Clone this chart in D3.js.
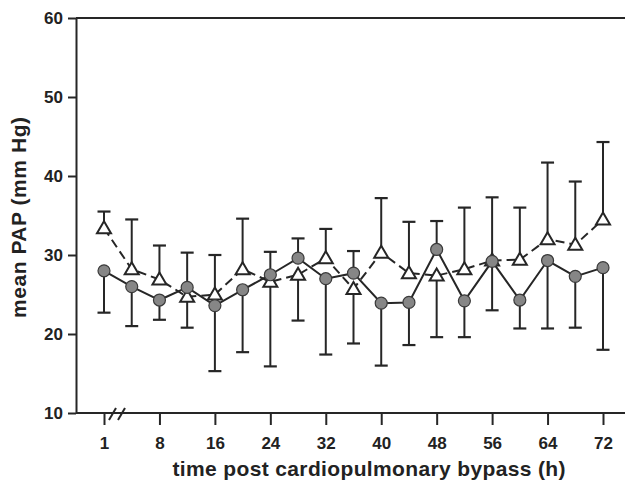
<!DOCTYPE html>
<html>
<head>
<meta charset="utf-8">
<script src="https://cdn.jsdelivr.net/npm/d3@7"></script>
<style>
  body { margin: 0; background: #fff; }
  text { font-family: "Liberation Sans", Arial, sans-serif; font-weight: bold; fill: #222; }
</style>
</head>
<body>
<div id="chart"></div>
<script>
// hours after bypass (1 is drawn before a break in the axis)
const times = [1, 4, 8, 12, 16, 20, 24, 28, 32, 36, 40, 44, 48, 52, 56, 60, 64, 68, 72];
const tickTimes = [1, 8, 16, 24, 32, 40, 48, 56, 64, 72];
const yTicks = [10, 20, 30, 40, 50, 60];

// filled circles, solid line
const circleMeans = [28.0, 26.0, 24.3, 25.9, 23.6, 25.6, 27.5, 29.6, 27.0, 27.7,
    23.9, 24.0, 30.7, 24.2, 29.2, 24.3, 29.3, 27.3, 28.4];
// open triangles, dashed line
const triangleMeans = [33.4, 28.2, 26.9, 24.7, 25.0, 28.2, 26.6, 27.5, 29.6, 25.7,
    30.3, 27.7, 27.4, 28.2, 29.3, 29.4, 32.0, 31.3, 34.5];
// error bar ends (upper one drawn from the higher mean, lower one from the lower mean)
const errUpper = [35.5, 34.5, 31.2, 30.3, 30.0, 34.6, 30.4, 32.1, 33.3, 30.5,
    37.2, 34.2, 34.3, 36.0, 37.3, 36.0, 41.7, 39.3, 44.3];
const errLower = [22.7, 21.0, 21.8, 20.8, 15.3, 17.7, 15.9, 21.7, 17.4, 18.8,
    16.0, 18.6, 19.6, 19.6, 23.0, 20.7, 20.7, 20.8, 18.0];

const width = 625, height = 484;
const margin = { top: 18, right: 22, bottom: 71, left: 76 };

const svg = d3.select("#chart")
    .append("svg")
    .attr("width", width)
    .attr("height", height);

const xScale = d3.scalePoint()
    .domain(times)
    .range([104, 603]);

const yScale = d3.scaleLinear()
    .domain([10, 60])
    .range([height - margin.bottom, margin.top]);

const rows = times.map((t, i) => ({
    t: t,
    c: circleMeans[i],
    tr: triangleMeans[i],
    up: errUpper[i],
    lo: errLower[i]
}));

const ink = "#262626";

// error bars
const bars = [];
rows.forEach(d => {
    bars.push({ t: d.t, from: Math.max(d.c, d.tr), to: d.up });
    bars.push({ t: d.t, from: Math.min(d.c, d.tr), to: d.lo });
});

svg.selectAll(".err")
    .data(bars)
    .enter()
    .append("line")
    .attr("class", "err")
    .attr("x1", d => xScale(d.t))
    .attr("x2", d => xScale(d.t))
    .attr("y1", d => yScale(d.from))
    .attr("y2", d => yScale(d.to))
    .attr("stroke", ink)
    .attr("stroke-width", 2);

svg.selectAll(".cap")
    .data(bars)
    .enter()
    .append("line")
    .attr("class", "cap")
    .attr("x1", d => xScale(d.t) - 6.5)
    .attr("x2", d => xScale(d.t) + 6.5)
    .attr("y1", d => yScale(d.to))
    .attr("y2", d => yScale(d.to))
    .attr("stroke", ink)
    .attr("stroke-width", 2.2);

// lines
svg.append("path")
    .datum(rows)
    .attr("fill", "none")
    .attr("stroke", ink)
    .attr("stroke-width", 2)
    .attr("stroke-dasharray", "9,5")
    .attr("d", d3.line().x(d => xScale(d.t)).y(d => yScale(d.tr)));

svg.append("path")
    .datum(rows)
    .attr("fill", "none")
    .attr("stroke", ink)
    .attr("stroke-width", 2)
    .attr("d", d3.line().x(d => xScale(d.t)).y(d => yScale(d.c)));

// triangles
svg.selectAll(".tri")
    .data(rows)
    .enter()
    .append("path")
    .attr("class", "tri")
    .attr("transform", d => "translate(" + xScale(d.t) + "," + yScale(d.tr) + ")")
    .attr("d", "M0,-7 L7,5 L-7,5 Z")
    .attr("fill", "#fff")
    .attr("stroke", ink)
    .attr("stroke-width", 2)
    .attr("stroke-linejoin", "miter");

// circles
svg.selectAll(".dot")
    .data(rows)
    .enter()
    .append("circle")
    .attr("class", "dot")
    .attr("cx", d => xScale(d.t))
    .attr("cy", d => yScale(d.c))
    .attr("r", 6)
    .attr("fill", "#868686")
    .attr("stroke", "#3a3a3a")
    .attr("stroke-width", 1.2);

// top frame line
svg.append("line")
    .attr("x1", margin.left)
    .attr("x2", width)
    .attr("y1", yScale(60))
    .attr("y2", yScale(60))
    .attr("stroke", ink)
    .attr("stroke-width", 2);

// x axis
const xAxis = svg.append("g")
    .attr("transform", "translate(0," + yScale(10) + ")")
    .call(d3.axisBottom(xScale).tickValues(tickTimes).tickSize(12).tickSizeOuter(0).tickPadding(12));
xAxis.select(".domain").remove();
xAxis.append("line")
    .attr("x1", margin.left)
    .attr("x2", width)
    .attr("stroke", ink)
    .attr("stroke-width", 2);
xAxis.selectAll(".tick line").attr("stroke", ink).attr("stroke-width", 2);
xAxis.selectAll(".tick text").attr("font-size", 17).attr("fill", ink);

// axis break marks
[0, 9].forEach(dx => {
    svg.append("line")
        .attr("x1", 109 + dx)
        .attr("y1", yScale(10) + 7)
        .attr("x2", 116 + dx)
        .attr("y2", yScale(10) - 5)
        .attr("stroke", ink)
        .attr("stroke-width", 2);
});

// y axis
const yAxis = svg.append("g")
    .attr("transform", "translate(" + margin.left + ",0)")
    .call(d3.axisLeft(yScale).tickValues(yTicks).tickSize(8).tickSizeOuter(0).tickPadding(5));
yAxis.select(".domain").attr("stroke", ink).attr("stroke-width", 2);
yAxis.selectAll(".tick line").attr("stroke", ink).attr("stroke-width", 2);
yAxis.selectAll(".tick text").attr("font-size", 17).attr("fill", ink);

// axis titles
svg.append("text")
    .attr("x", 369)
    .attr("y", 476)
    .attr("text-anchor", "middle")
    .attr("font-size", 21)
    .attr("textLength", 393)
    .attr("lengthAdjust", "spacing")
    .text("time post cardiopulmonary bypass (h)");

svg.append("text")
    .attr("transform", "translate(26," + ((yScale(10) + yScale(60)) / 2 + 2) + ") rotate(-90)")
    .attr("text-anchor", "middle")
    .attr("font-size", 21)
    .attr("textLength", 201)
    .attr("lengthAdjust", "spacing")
    .text("mean PAP (mm Hg)");
</script>
</body>
</html>
